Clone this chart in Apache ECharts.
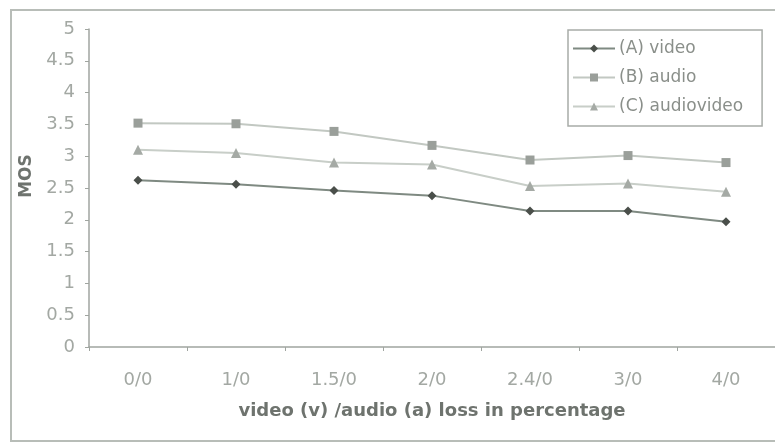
<!DOCTYPE html>
<html>
<head>
<meta charset="utf-8">
<script src="https://cdn.jsdelivr.net/npm/echarts@6/dist/echarts.min.js"></script>
<style>
  html, body { margin: 0; padding: 0; background: #fff; }
  #chart { width: 775px; height: 444px; }
</style>
</head>
<body>
<div id="chart"></div>
<script>
// Loss conditions: video (v) / audio (a) loss in percent
const categories = ['0/0', '1/0', '1.5/0', '2/0', '2.4/0', '3/0', '4/0'];

// Mean opinion scores per condition
const videoMOS = [2.62, 2.56, 2.46, 2.38, 2.14, 2.14, 1.97];
const audioMOS = [3.52, 3.51, 3.39, 3.17, 2.94, 3.01, 2.90];
const audioVideoMOS = [3.10, 3.05, 2.90, 2.87, 2.53, 2.57, 2.44];

const yTicks = ['0', '0.5', '1', '1.5', '2', '2.5', '3', '3.5', '4', '4.5', '5'];

const font = "'DejaVu Sans', 'Liberation Sans', Arial, sans-serif";
const chart = echarts.init(document.getElementById('chart'), null, { renderer: 'canvas' });

chart.setOption({
  backgroundColor: '#fff',
  animation: false,
  textStyle: { fontFamily: font },
  graphic: [{
    type: 'rect',
    shape: { x: 11, y: 10, width: 780, height: 431 },
    style: { fill: 'none', stroke: '#b8bdb8', lineWidth: 2 },
    silent: true,
    z: -1
  }],
  grid: { left: 89, right: -3, top: 29, bottom: 97, containLabel: false },
  legend: {
    orient: 'vertical',
    left: 568,
    top: 30,
    padding: [10, 19, 11, 4],
    itemGap: 12,
    itemWidth: 42,
    itemHeight: 10,
    borderColor: '#a8aca8',
    borderWidth: 1.5,
    backgroundColor: '#fff',
    textStyle: { color: '#8a8f8a', fontSize: 17, fontFamily: font, padding: [0, 0, 0, -1] },
    data: ['(A) video', '(B) audio', '(C) audiovideo']
  },
  xAxis: {
    type: 'category',
    data: categories,
    boundaryGap: true,
    name: 'video (v) /audio (a) loss in percentage',
    nameLocation: 'middle',
    nameGap: 55,
    nameTextStyle: { color: '#6e736e', fontSize: 18, fontWeight: 'bold', fontFamily: font },
    axisLine: { lineStyle: { color: '#a0a5a0', width: 1.5 } },
    axisTick: { show: true, length: 4, lineStyle: { color: '#a0a5a0' } },
    axisLabel: { color: '#a3a8a3', fontSize: 18, margin: 24, fontFamily: font },
    splitLine: { show: false }
  },
  yAxis: {
    type: 'value',
    min: 0,
    max: 5,
    interval: 0.5,
    name: 'MOS',
    nameLocation: 'middle',
    nameGap: 53,
    nameRotate: 90,
    nameTextStyle: { color: '#6e736e', fontSize: 17, fontWeight: 'bold', fontFamily: font, padding: [0, 0, 0, 24] },
    axisLine: { show: true, lineStyle: { color: '#a0a5a0', width: 1.5 } },
    axisTick: { show: true, length: 4, lineStyle: { color: '#a0a5a0' } },
    axisLabel: {
      color: '#a3a8a3', fontSize: 18, margin: 14, fontFamily: font,
      formatter: function (v) { return yTicks[Math.round(v * 2)]; }
    },
    splitLine: { show: false }
  },
  series: [
    {
      name: '(A) video',
      type: 'line',
      data: videoMOS,
      symbol: 'diamond',
      symbolSize: 9,
      itemStyle: { color: '#4a4f4a' },
      lineStyle: { color: '#7f8a82', width: 2 }
    },
    {
      name: '(B) audio',
      type: 'line',
      data: audioMOS,
      symbol: 'rect',
      symbolSize: 9,
      itemStyle: { color: '#9a9f9a' },
      lineStyle: { color: '#c2c8c2', width: 2 }
    },
    {
      name: '(C) audiovideo',
      type: 'line',
      data: audioVideoMOS,
      symbol: 'triangle',
      symbolSize: 10,
      itemStyle: { color: '#a5aaa5' },
      lineStyle: { color: '#c8cec8', width: 2 }
    }
  ]
});
</script>
</body>
</html>
